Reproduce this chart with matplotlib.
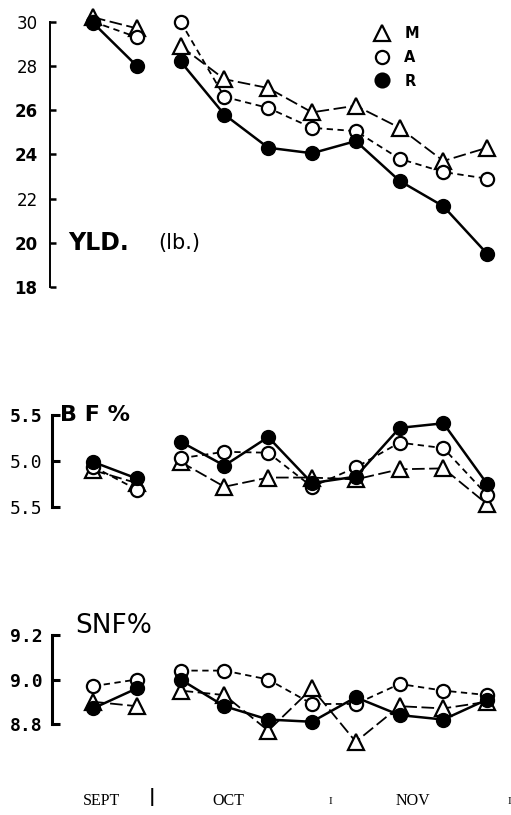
import numpy as np
import matplotlib
matplotlib.use('Agg')
import matplotlib.pyplot as plt
from matplotlib.lines import Line2D

# sampling points: two in September, eight across October/November
points = np.arange(10)
sept = slice(0, 2)
octnov = slice(2, 10)

yld_m = [30.2, 29.7, 28.9, 27.4, 27.0, 25.9, 26.2, 25.2, 23.7, 24.3]
yld_a = [30.0, 29.3, 30.0, 26.6, 26.1, 25.2, 25.05, 23.8, 23.2, 22.9]
yld_r = [29.95, 28.0, 28.2, 25.8, 24.3, 24.05, 24.6, 22.8, 21.65, 19.5]

bf_m = [4.90, 4.76, 4.99, 4.72, 4.82, 4.82, 4.80, 4.91, 4.92, 4.53]
bf_a = [4.94, 4.69, 5.03, 5.10, 5.09, 4.72, 4.93, 5.20, 5.14, 4.63]
bf_r = [4.99, 4.81, 5.21, 4.95, 5.26, 4.76, 4.83, 5.36, 5.41, 4.75]

snf_m = [8.90, 8.88, 8.95, 8.93, 8.77, 8.96, 8.72, 8.88, 8.87, 8.90]
snf_a = [8.97, 9.00, 9.04, 9.04, 9.00, 8.89, 8.89, 8.98, 8.95, 8.93]
snf_r = [8.87, 8.96, 9.00, 8.88, 8.82, 8.81, 8.92, 8.84, 8.82, 8.91]

yld_ticks = [18, 20, 22, 24, 26, 28, 30]
yld_ticklabels = ['18', '20', '22', '24', '26', '28', '30']
bf_ticks = [4.5, 5.0, 5.5]
bf_ticklabels = ['5.5', '5.0', '5.5']
snf_ticks = [8.8, 9.0, 9.2]
snf_ticklabels = ['8.8', '9.0', '9.2']

groups = ['M', 'A', 'R']
months = ['SEPT', 'OCT', 'NOV']

W, H = 511, 815
fig = plt.figure(figsize=(W / 100, H / 100), dpi=100)

X0, DX = 93, 43.8   # pixel x of first point, spacing


def add_panel(left, top, bottom, ylo, yhi):
    ax = fig.add_axes([left / W, 1 - bottom / H, (W - left) / W, (bottom - top) / H])
    ax.set_xlim((left - X0) / DX, (W - X0) / DX)
    ax.set_ylim(ylo, yhi)
    for s in ['top', 'right', 'bottom']:
        ax.spines[s].set_visible(False)
    ax.set_xticks([])
    ax.patch.set_alpha(0)
    return ax


styles = {
    'M': dict(marker='^', ms=11, mfc='white', mec='black', mew=1.6,
              color='black', lw=1.3, dashes=(7, 2.5), zorder=3),
    'A': dict(marker='o', ms=9.5, mfc='white', mec='black', mew=1.6,
              color='black', lw=1.3, dashes=(3.5, 2.5), zorder=4),
    'R': dict(marker='o', ms=10, mfc='black', mec='black',
              color='black', lw=1.8, ls='-', zorder=5),
}


def draw(ax, series):
    for g, vals in zip(groups, series):
        v = np.array(vals)
        for part in (sept, octnov):
            ax.plot(points[part], v[part], clip_on=False, **styles[g])


# yield panel
ax1 = add_panel(50, 21.7, 287, 18, 30)
draw(ax1, [yld_m, yld_a, yld_r])
ax1.spines['left'].set_linewidth(1.4)
ax1.set_yticks(yld_ticks)
ax1.set_yticklabels(yld_ticklabels)
ax1.tick_params(axis='y', direction='in', length=4, width=1.8, pad=9, labelsize=12)
for lab in ax1.get_yticklabels():
    if lab.get_text() in ('18', '20', '24', '26'):
        lab.set_fontweight('bold')
ax1.text(-0.57, 20.0, 'YLD.', fontsize=17, fontweight='bold', va='center', ha='left')
ax1.text(1.5, 20.0, '(lb.)', fontsize=15, va='center', ha='left')

handles = [Line2D([], [], ls='none', marker=styles[g]['marker'], ms=styles[g]['ms'],
                  mfc=styles[g]['mfc'], mec='black', mew=1.6) for g in groups]
leg = fig.legend(handles, groups, loc='upper left', bbox_to_anchor=(375 / W, 1 - 26 / H),
                 frameon=False, handlelength=1.0, handletextpad=1.0, labelspacing=0.6,
                 borderpad=0, borderaxespad=0, prop={'weight': 'bold', 'size': 10.5})

# butterfat panel
ax2 = add_panel(52, 415, 507, 4.5, 5.5)
draw(ax2, [bf_m, bf_a, bf_r])
ax2.spines['left'].set_linewidth(2.2)
ax2.set_yticks(bf_ticks)
ax2.set_yticklabels(bf_ticklabels, family='DejaVu Sans Mono')
ax2.tick_params(axis='y', direction='in', length=6, width=2.2, pad=7, labelsize=13)
ax2.get_yticklabels()[-1].set_fontweight('bold')
ax2.text(0.018, 1.0, 'B F %', transform=ax2.transAxes, fontsize=16, fontweight='bold',
         va='center', ha='left')

# solids-not-fat panel
ax3 = add_panel(52, 635, 724, 8.8, 9.2)
draw(ax3, [snf_m, snf_a, snf_r])
ax3.spines['left'].set_linewidth(2.2)
ax3.set_yticks(snf_ticks)
ax3.set_yticklabels(snf_ticklabels, family='DejaVu Sans Mono', fontweight='bold')
ax3.tick_params(axis='y', direction='in', length=6, width=2.2, pad=7, labelsize=13)
ax3.text(0.05, 1.1, 'SNF%', transform=ax3.transAxes, fontsize=19, va='center', ha='left')

# month labels along the bottom
for name, xp in zip(months, [102, 228, 413]):
    fig.text(xp / W, 1 - 801 / H, name, ha='center', va='center',
             family='Liberation Serif', fontsize=11.5)
fig.text(152 / W, 1 - 797 / H, '|', ha='center', va='center', fontsize=13, fontweight='bold')
for xp in [330, 509]:
    fig.text(xp / W, 1 - 801 / H, 'I', ha='center', va='center',
             family='Liberation Serif', fontsize=8)

fig.savefig('out.png', dpi=100, facecolor='white')
